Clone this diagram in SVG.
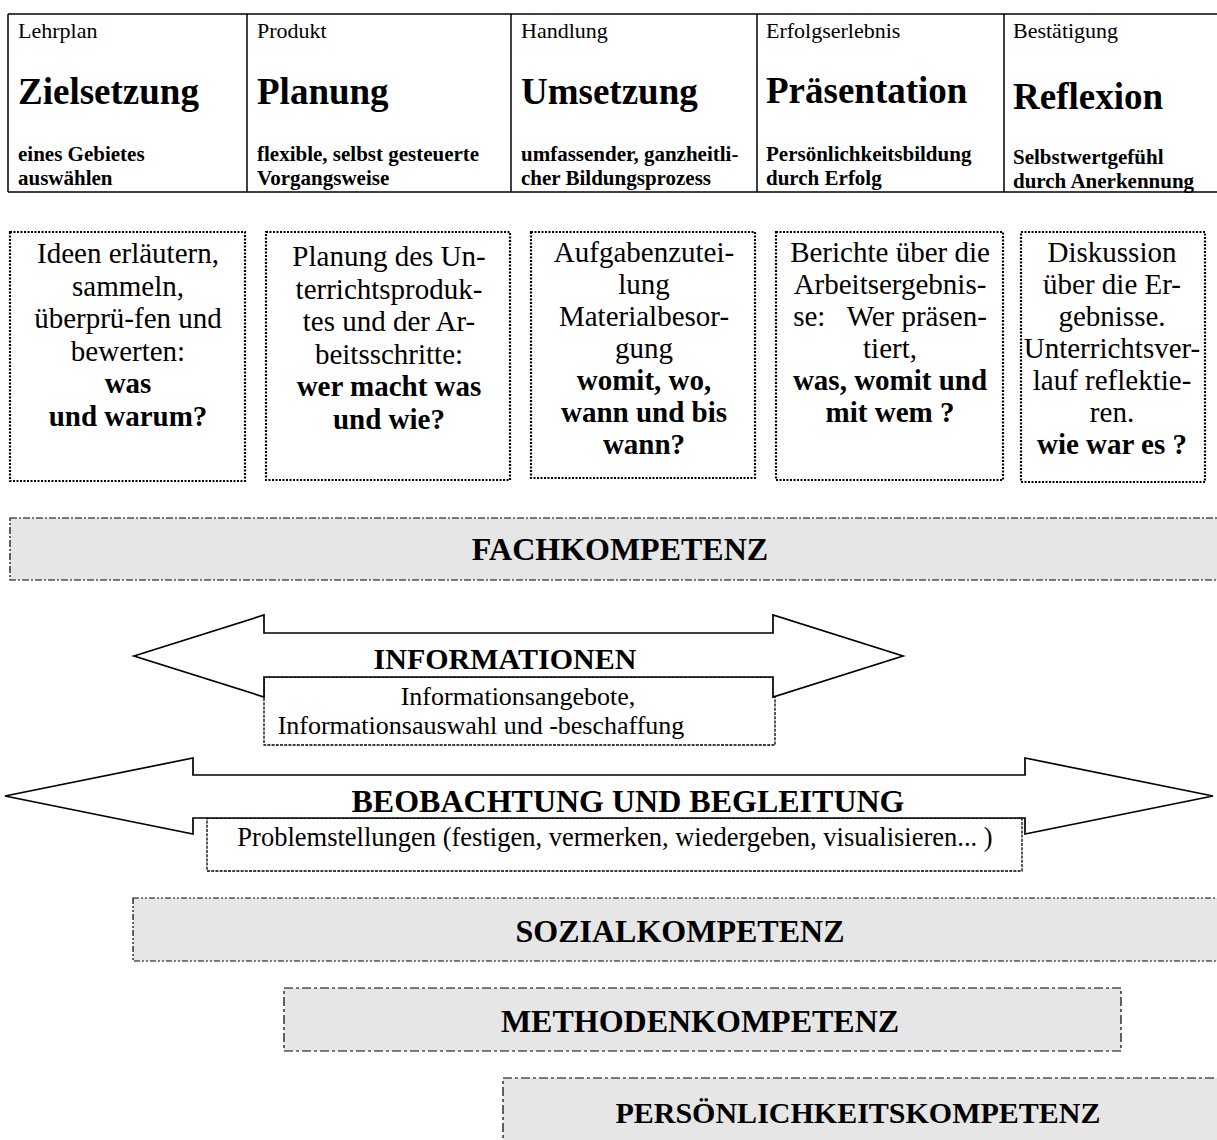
<svg xmlns="http://www.w3.org/2000/svg" width="1217" height="1140" viewBox="0 0 1217 1140">
<style>
text{font-family:"Liberation Serif","Times New Roman",serif;fill:#000}
.lab{font-size:22px}
.ttl{font-size:37px;font-weight:bold}
.sub{font-size:21px;font-weight:bold}
.bx{font-size:29px;text-anchor:middle}
.b{font-weight:bold}
.tl{stroke:#000;stroke-width:1.5;fill:none}
.dot{fill:#fff;stroke:#000;stroke-width:2.2;stroke-dasharray:2 1.5}
.bar{fill:#e6e6e6;stroke:#000;stroke-width:1.2}
.bartxt{font-size:32px;font-weight:bold;text-anchor:middle}
.arr{fill:#fff;stroke:#000;stroke-width:1.7;stroke-linejoin:miter}
.dash{fill:#fff;stroke:#000;stroke-width:1.3;stroke-dasharray:3 1.2}
.mid{text-anchor:middle}
</style>
<rect width="1217" height="1140" fill="#fff"/>
<g id="table">
<line class="tl" x1="8" y1="14" x2="1217" y2="14"/>
<line class="tl" x1="8" y1="192" x2="1217" y2="192"/>
<line class="tl" x1="8" y1="14" x2="8" y2="192"/>
<line class="tl" x1="247" y1="14" x2="247" y2="192"/>
<line class="tl" x1="511" y1="14" x2="511" y2="192"/>
<line class="tl" x1="757" y1="14" x2="757" y2="192"/>
<line class="tl" x1="1004" y1="14" x2="1004" y2="192"/>
</g>
<g id="col-zielsetzung">
<text class="lab" x="18" y="38">Lehrplan</text>
<text class="ttl" x="18" y="104">Zielsetzung</text>
<text class="sub" x="18" y="161">eines Gebietes</text>
<text class="sub" x="18" y="185">auswählen</text>
</g>
<g id="col-planung">
<text class="lab" x="257" y="38">Produkt</text>
<text class="ttl" x="257" y="104">Planung</text>
<text class="sub" x="257" y="161">flexible, selbst gesteuerte</text>
<text class="sub" x="257" y="185">Vorgangsweise</text>
</g>
<g id="col-umsetzung">
<text class="lab" x="521" y="38">Handlung</text>
<text class="ttl" x="521" y="104">Umsetzung</text>
<text class="sub" x="521" y="161">umfassender, ganzheitli-</text>
<text class="sub" x="521" y="185">cher Bildungsprozess</text>
</g>
<g id="col-praesentation">
<text class="lab" x="766" y="38">Erfolgserlebnis</text>
<text class="ttl" x="766" y="103">Präsentation</text>
<text class="sub" x="766" y="161">Persönlichkeitsbildung</text>
<text class="sub" x="766" y="185">durch Erfolg</text>
</g>
<g id="col-reflexion">
<text class="lab" x="1013" y="38">Bestätigung</text>
<text class="ttl" x="1013" y="109">Reflexion</text>
<text class="sub" x="1013" y="164">Selbstwertgefühl</text>
<text class="sub" x="1013" y="188">durch Anerkennung</text>
</g>

<g id="box1">
<rect class="dot" x="10" y="232" width="235" height="249"/>
<text class="bx" x="128" y="263">Ideen erläutern,</text>
<text class="bx" x="128" y="295.5">sammeln,</text>
<text class="bx" x="128" y="328">überprü-fen und</text>
<text class="bx" x="128" y="360.5">bewerten:</text>
<text class="bx b" x="128" y="393">was</text>
<text class="bx b" x="128" y="425.5">und warum?</text>
</g>
<g id="box2">
<rect class="dot" x="266" y="232" width="244" height="248"/>
<text class="bx" x="389" y="266">Planung des Un-</text>
<text class="bx" x="389" y="298.5">terrichtsproduk-</text>
<text class="bx" x="389" y="331">tes und der Ar-</text>
<text class="bx" x="389" y="363.5">beitsschritte:</text>
<text class="bx b" x="389" y="396">wer macht was</text>
<text class="bx b" x="389" y="428.5">und wie?</text>
</g>
<g id="box3">
<rect class="dot" x="531" y="232" width="224" height="246"/>
<text class="bx" x="644" y="262">Aufgabenzutei-</text>
<text class="bx" x="644" y="294">lung</text>
<text class="bx" x="644" y="326">Materialbesor-</text>
<text class="bx" x="644" y="358">gung</text>
<text class="bx b" x="644" y="390">womit, wo,</text>
<text class="bx b" x="644" y="422">wann und bis</text>
<text class="bx b" x="644" y="454">wann?</text>
</g>
<g id="box4">
<rect class="dot" x="776" y="232" width="227" height="248"/>
<text class="bx" x="890" y="262">Berichte über die</text>
<text class="bx" x="890" y="294">Arbeitsergebnis-</text>
<text class="bx" x="890" y="326" xml:space="preserve">se:   Wer präsen-</text>
<text class="bx" x="890" y="358">tiert,</text>
<text class="bx b" x="890" y="390">was, womit und</text>
<text class="bx b" x="890" y="422">mit wem ?</text>
</g>
<g id="box5">
<rect class="dot" x="1021" y="232" width="184" height="250"/>
<text class="bx" x="1112" y="262">Diskussion</text>
<text class="bx" x="1112" y="294">über die Er-</text>
<text class="bx" x="1112" y="326">gebnisse.</text>
<text class="bx" x="1112" y="358">Unterrichtsver-</text>
<text class="bx" x="1112" y="390">lauf reflektie-</text>
<text class="bx" x="1112" y="422">ren.</text>
<text class="bx b" x="1112" y="454">wie war es ?</text>
</g>

<g id="fachkompetenz">
<rect class="bar" x="10" y="518" width="1220" height="62" stroke-dasharray="7 2 2 2"/>
<text class="bartxt" x="620" y="560">FACHKOMPETENZ</text>
</g>

<g id="informationen">
<rect class="dash" x="264" y="677" width="511" height="68"/>
<polygon class="arr" points="134,656 264,615 264,633 773,633 773,615 903,656 773,697 773,677 264,677 264,697"/>
<text class="b mid" x="505" y="669" font-size="30">INFORMATIONEN</text>
<text class="mid" x="518" y="705" font-size="26">Informationsangebote,</text>
<text class="mid" x="481" y="734" font-size="26">Informationsauswahl und -beschaffung</text>
</g>

<g id="beobachtung">
<rect class="dash" x="207" y="818" width="815" height="53" stroke-width="1"/>
<polygon class="arr" points="5,796 193,758 193,775 1025,775 1025,758 1213,796 1025,834 1025,818 193,818 193,834"/>
<text class="b mid" x="628" y="812" font-size="32">BEOBACHTUNG UND BEGLEITUNG</text>
<text class="mid" x="615" y="846" font-size="26.5">Problemstellungen (festigen, vermerken, wiedergeben, visualisieren... )</text>
</g>

<g id="sozialkompetenz">
<rect class="bar" x="133" y="898" width="1100" height="63" stroke-dasharray="6 2 2 2 2 2"/>
<text class="bartxt" x="680" y="942">SOZIALKOMPETENZ</text>
</g>
<g id="methodenkompetenz">
<rect class="bar" x="284" y="988" width="837" height="63" stroke-width="1.6" stroke-dasharray="9 3 3 3"/>
<text class="bartxt" x="700" y="1032">METHODENKOMPETENZ</text>
</g>
<g id="persoenlichkeitskompetenz">
<rect class="bar" x="503" y="1078" width="730" height="80" stroke-width="1.6" stroke-dasharray="9 3 3 3"/>
<text class="bartxt" x="858" y="1123" style="font-size:30px">PERSÖNLICHKEITSKOMPETENZ</text>
</g>
<g id="connectors"/>
</svg>
